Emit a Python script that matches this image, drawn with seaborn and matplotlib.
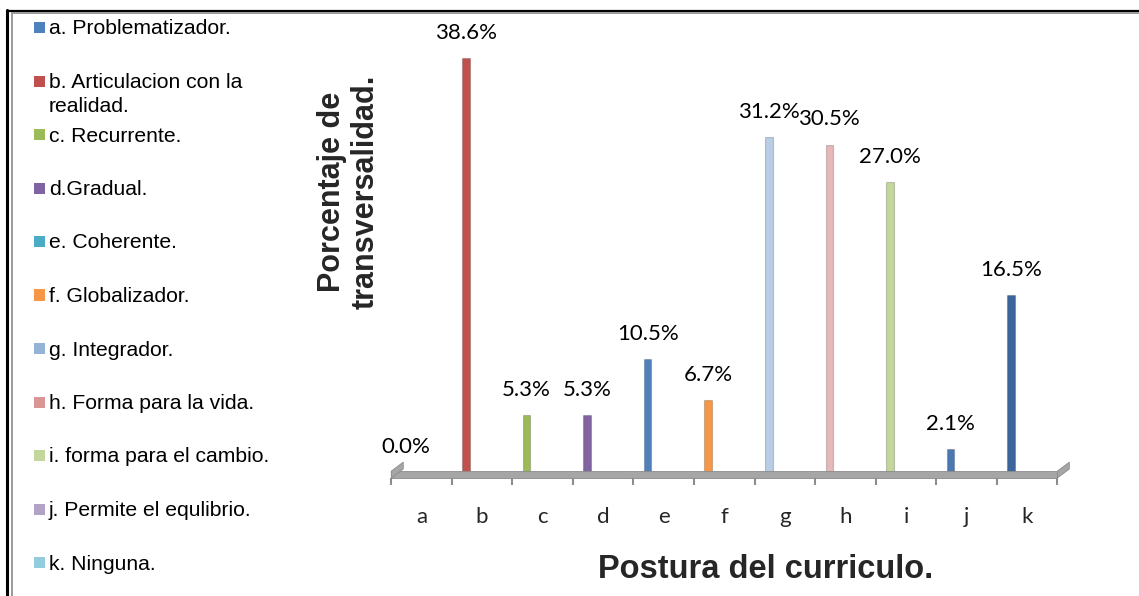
import numpy as np
import pandas as pd
import matplotlib.pyplot as plt
from matplotlib.patches import Rectangle, Polygon
from matplotlib.lines import Line2D
import seaborn as sns

# chart values
categories = ["a", "b", "c", "d", "e", "f", "g", "h", "i", "j", "k"]
percentages = [0.0, 38.6, 5.3, 5.3, 10.5, 6.7, 31.2, 30.5, 27.0, 2.1, 16.5]
bar_colors = ["#4F81BD", "#C0504D", "#9BBB59", "#8064A2", "#4F81BD", "#F79646",
              "#B9CDE5", "#E6B9B8", "#C3D69B", "#4A78B2", "#3B659B"]
legend_labels = ["a. Problematizador.", "b. Articulacion con la\nrealidad.",
                 "c. Recurrente.", "d.Gradual.", "e. Coherente.",
                 "f. Globalizador.", "g. Integrador.", "h. Forma para la vida.",
                 "i. forma para el cambio.", "j. Permite el equlibrio.", "k. Ninguna."]
legend_colors = ["#4F81BD", "#C0504D", "#9BBB59", "#8064A2", "#4BACC6", "#F79646",
                 "#95B3D7", "#D99694", "#C3D69B", "#B3A2C7", "#93CDDD"]

W, H = 1139, 596
PX_PER_CAT = 60.55
PX_PER_PCT = 10.73
BAR0_PX = 405.5      # x pixel of first bar
BASE_PX = 472        # y pixel of zero line
SHIFT = 0.265        # bars sit left of the category centre (3D depth)

sns.set_style("white")
plt.rcParams["font.family"] = ["Liberation Sans", "DejaVu Sans"]

df = pd.DataFrame({"cat": categories, "pct": percentages})

fig = plt.figure(figsize=(W / 100, H / 100), dpi=100)
left_px, right_px, top_px, bot_px = 375, 1085, 12, 478
ax = fig.add_axes([left_px / W, 1 - bot_px / H, (right_px - left_px) / W, (bot_px - top_px) / H])

sns.barplot(data=df, x="cat", y="pct", hue="cat", palette=bar_colors, width=0.125,
            legend=False, ax=ax, saturation=1, edgecolor="#00000030", linewidth=0.8)

ax.set_xlim((left_px - BAR0_PX) / PX_PER_CAT, (right_px - BAR0_PX) / PX_PER_CAT)
ax.set_ylim((BASE_PX - bot_px) / PX_PER_PCT, (BASE_PX - top_px) / PX_PER_PCT)

for cont in ax.containers:
    ax.bar_label(cont, fmt="%.1f%%", padding=11, fontsize=16, family="Lato", color="#000000")

# 3D floor band
n = len(categories)
x0, x1 = -0.5 + SHIFT, n - 0.5 + SHIFT
y0 = ax.get_ylim()[0]
y1 = 0.08
ax.add_patch(Rectangle((x0, y0), x1 - x0, y1 - y0, facecolor="#A6A6A6",
                       edgecolor="#8C8C8C", lw=0.6, clip_on=False, zorder=1))
dx, dy = 12 / PX_PER_CAT, 9 / PX_PER_PCT
for xe in (x0, x1):
    ax.add_patch(Polygon([(xe, y0), (xe, y1), (xe + dx, y1 + dy), (xe + dx, y0 + dy)],
                         closed=True, facecolor="#A6A6A6", edgecolor="#8C8C8C",
                         lw=0.6, clip_on=False, zorder=1))

ax.set_xticks(np.arange(n) + SHIFT)
ax.set_xticklabels(categories, family="Lato", fontsize=16)
ax.set_xticks(np.arange(n + 1) - 0.5 + SHIFT, minor=True)
ax.tick_params(axis="x", which="major", length=0, pad=21)
ax.tick_params(axis="x", which="minor", length=5, width=1.5, color="#8C8C8C",
               direction="out", bottom=True)
ax.set_yticks([])
ax.set_xlabel("")
ax.set_ylabel("")
for s in ax.spines.values():
    s.set_visible(False)
ax.set_facecolor("none")

# axis titles
fig.text(766 / W, 1 - 570 / H, "Postura del curriculo.", ha="center", va="center",
         fontsize=23.5, fontweight="bold")
fig.text(349 / W, 1 - 192 / H, "Porcentaje de\ntransversalidad.", ha="center",
         va="center", rotation=90, fontsize=22, fontweight="bold",
         multialignment="center", linespacing=1.15)

# legend column
for i, (lab, col) in enumerate(zip(legend_labels, legend_colors)):
    yc = 27 + 53.5 * i
    fig.add_artist(Rectangle((34 / W, 1 - (yc + 6) / H), 11 / W, 11 / H,
                             transform=fig.transFigure, facecolor=col, edgecolor="none"))
    for k, line in enumerate(lab.split("\n")):
        fig.text(49 / W, 1 - (yc + 7.5 + 24 * k) / H, line, ha="left", va="baseline",
                 fontsize=15.2, color="#000000")

# frame lines at top and left
fig.add_artist(Line2D([7 / W, 7 / W], [0, 1 - 10 / H], transform=fig.transFigure,
                      color="#000000", lw=2.2))
fig.add_artist(Line2D([7 / W, 1], [1 - 11 / H, 1 - 11 / H], transform=fig.transFigure,
                      color="#000000", lw=1.6))
fig.add_artist(Line2D([11.5 / W, 11.5 / W], [0, 1 - 13 / H], transform=fig.transFigure,
                      color="#9A9A9A", lw=1.4))
fig.add_artist(Line2D([11.5 / W, 1], [1 - 13 / H, 1 - 13 / H], transform=fig.transFigure,
                      color="#9A9A9A", lw=1.4))

fig.savefig("out.png", dpi=100)
